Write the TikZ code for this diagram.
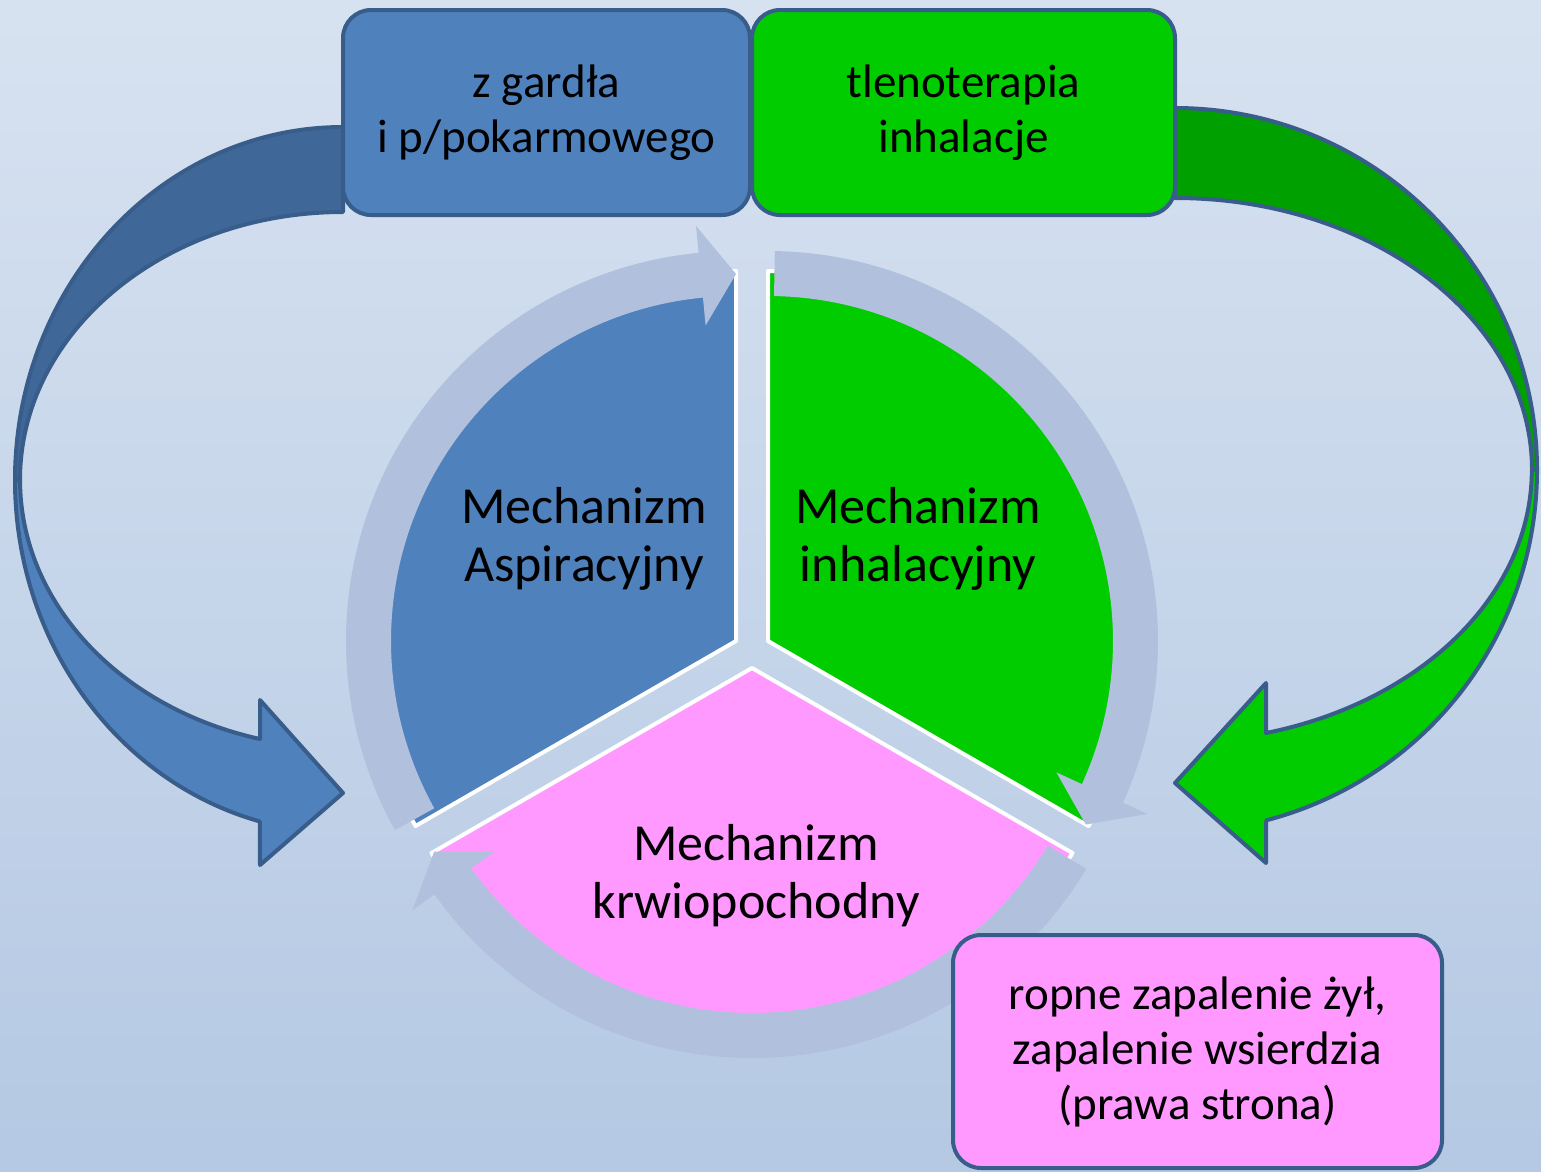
\documentclass[tikz,border=0pt]{standalone}
\usepackage{fontspec}
\setmainfont{Carlito}

\definecolor{blu}{RGB}{79,129,189}
\definecolor{bludark}{RGB}{63,103,151}
\definecolor{edge}{RGB}{56,93,138}
\definecolor{grn}{RGB}{0,204,0}
\definecolor{grndark}{RGB}{0,160,0}
\definecolor{pnk}{RGB}{255,153,255}
\definecolor{ringc}{RGB}{177,192,220}
\definecolor{bgtop}{RGB}{233,239,247}
\definecolor{bgmid}{RGB}{177,198,226}
\definecolor{bgbot}{RGB}{191,208,232}
\pgfdeclareverticalshading{bgshade}{100bp}{color(0bp)=(bgbot); color(20bp)=(bgmid); color(100bp)=(bgtop)}

\begin{document}
\begin{tikzpicture}[x=1pt, y=1pt,
    box/.style = {draw=edge, line width=4pt, rounded corners=28pt, align=center, font=\fontsize{47}{55}\selectfont},
    mech/.style = {align=center, font=\fontsize{52}{58}\selectfont},
    band/.style = {draw=edge, line width=4pt, line join=round},
    piece/.style = {draw=white, line width=4pt, line join=round},
    cyc/.style = {fill=ringc}]
    \useasboundingbox (0,0) rectangle (1541,-1171);
    \shade[shading=bgshade] (0,0) rectangle (1541,-1171);

    % pie pieces
    \foreach \cx/\cy/\s/\c in {736/641/90/blu, 768/641/-30/grn, 752/668/210/pnk}
        \filldraw[piece, fill=\c, shift={(\cx,-\cy)}] (0,0) -- (\s:370) arc[start angle=\s, end angle=\s+120, radius=370] -- cycle;

    % cycle arrows round the pie
    \foreach \cx/\cy/\a in {736/641/209, 768/641/89, 752/668/-31} {
        \pgfmathsetmacro\hb{\a-113.5}
        \pgfmathsetmacro\tp{\a-119}
        \fill[cyc, shift={(\cx,-\cy)}] (\a:390) arc[start angle=\a, end angle=\hb, radius=390]
            -- (\hb:417) -- (\tp:367) -- (\hb:317) -- (\hb:345)
            arc[start angle=\hb, end angle=\a, radius=345] -- cycle;
    }

    % left curved arrow
    \filldraw[band, fill=bludark] (343,-127) arc[start angle=90, end angle=180, x radius=328, y radius=353]
        -- (20,-480) arc[start angle=180, end angle=90, x radius=323, y radius=268] -- cycle;
    \filldraw[band, fill=blu] (15,-480) arc[start angle=180, end angle=255.3, x radius=328, y radius=353]
        -- (260,-865) -- (343,-793) -- (260,-700) -- (260,-739)
        arc[start angle=255.1, end angle=180, x radius=323, y radius=268] -- cycle;

    % right curved arrow
    \filldraw[band, fill=grndark] (1175,-108) arc[start angle=90, end angle=0, radius=362]
        -- (1532,-470) arc[start angle=0, end angle=90, x radius=357, y radius=272] -- cycle;
    \filldraw[band, fill=grn] (1537,-470) arc[start angle=0, end angle=-75.4, radius=362]
        -- (1266,-863) -- (1175,-783) -- (1266,-683) -- (1266,-733)
        arc[start angle=-75.2, end angle=0, x radius=357, y radius=272] -- cycle;

    \node[box, fill=blu, minimum width=407pt, minimum height=205pt] (gardlo) at (546.5,-112.5) {z gardła\\i p/pokarmowego};
    \node[box, fill=grn, minimum width=423pt, minimum height=205pt] (tlen) at (963.5,-112.5) {tlenoterapia\\inhalacje};
    \node[box, fill=pnk, minimum width=489pt, minimum height=233pt] (ropne) at (1197.5,-1051.5) {ropne zapalenie żył,\\zapalenie wsierdzia\\(prawa strona)};

    \node[mech] (asp) at (584,-539) {Mechanizm\\Aspiracyjny};
    \node[mech] (inh) at (918,-539) {Mechanizm\\inhalacyjny};
    \node[mech] (krw) at (756,-876) {Mechanizm\\krwiopochodny};
\end{tikzpicture}
\end{document}
